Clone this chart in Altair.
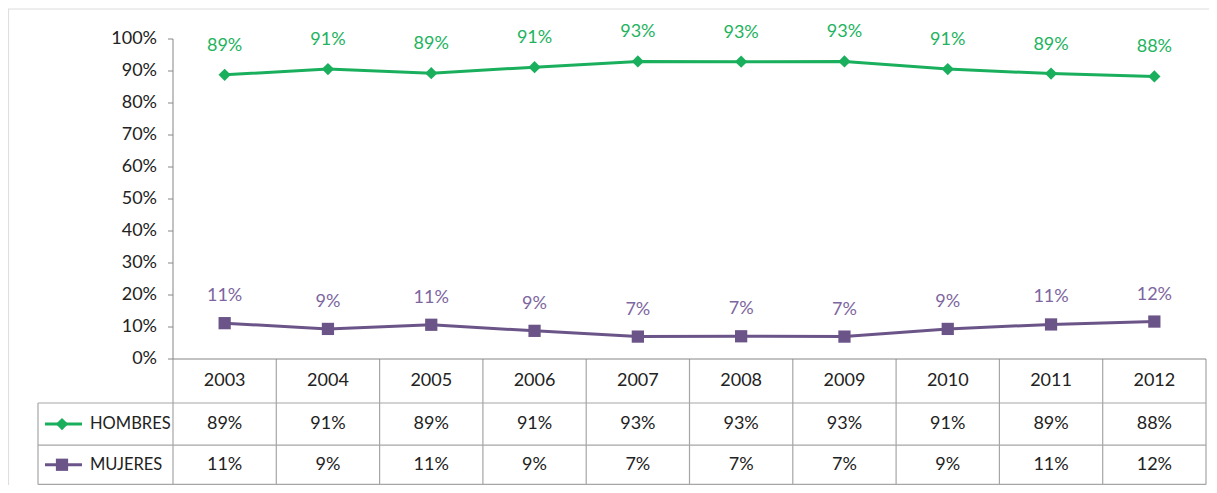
import altair as alt
import pandas as pd

years = [2003, 2004, 2005, 2006, 2007, 2008, 2009, 2010, 2011, 2012]
hombres = [88.8, 90.6, 89.3, 91.2, 93.0, 92.9, 93.0, 90.6, 89.2, 88.3]
mujeres = [11.2, 9.4, 10.7, 8.8, 7.0, 7.1, 7.0, 9.4, 10.8, 11.7]
series = ["HOMBRES", "MUJERES"]
colors = ["#1aaf5d", "#6b5588"]
label_colors = ["#22b35e", "#7d66a0"]
y_ticks = list(range(0, 101, 10))

FONT = "Lato"
TXT = "#222222"
GRID = "#a6a6a6"
AX = "#868686"

# layout (x: 103.3 px per year, y: 3.2 px per percentage point)
PX = 103.3
PY = 3.2
x_left = years[0] - 0.5
x_right = years[-1] + 0.5
x_min = x_left - 165 / PX
x_max = x_right + 3 / PX
y_min = -126 / PY
y_max = 351 / PY
x_legend = x_left - 135 / PX
row_edges = [0, -13.75, -26.9, -39.2]
row_mid = [(row_edges[i] + row_edges[i + 1]) / 2 for i in range(3)]

xs = alt.Scale(domain=[x_min, x_max], nice=False, zero=False)
ys = alt.Scale(domain=[y_min, y_max], nice=False, zero=False)
col = alt.Scale(domain=series, range=colors)


def XQ(f):
    return alt.X(f, type="quantitative", scale=xs, axis=None)


def YQ(f):
    return alt.Y(f, type="quantitative", scale=ys, axis=None)


pts = pd.DataFrame(
    {
        "year": years * 2,
        "serie": ["HOMBRES"] * len(years) + ["MUJERES"] * len(years),
        "v": hombres + mujeres,
    }
)
pts["lab"] = [f"{round(v)}%" for v in pts["v"]]
pts_h = pts[pts["serie"] == "HOMBRES"]
pts_m = pts[pts["serie"] == "MUJERES"]

lines = alt.Chart(pts).mark_line(strokeWidth=3).encode(
    x=XQ("year"), y=YQ("v"), color=alt.Color("serie:N", scale=col, legend=None)
)
mk_h = alt.Chart(pts_h).mark_point(
    shape="diamond", filled=True, size=150, opacity=1, color=colors[0]
).encode(x=XQ("year"), y=YQ("v"))
mk_m = alt.Chart(pts_m).mark_point(
    shape="square", filled=True, size=150, opacity=1, color=colors[1]
).encode(x=XQ("year"), y=YQ("v"))
lab_h = alt.Chart(pts_h).mark_text(
    font=FONT, fontSize=18, dy=-24, baseline="alphabetic", color=label_colors[0]
).encode(x=XQ("year"), y=YQ("v"), text="lab:N")
lab_m = alt.Chart(pts_m).mark_text(
    font=FONT, fontSize=18, dy=-22, baseline="alphabetic", color=label_colors[1]
).encode(x=XQ("year"), y=YQ("v"), text="lab:N")

# y axis drawn with marks
ax_df = pd.DataFrame(
    {"x": [x_left, x_left], "x2": [x_left, x_right], "y": [0, 0], "y2": [100, 0]}
)
ax_lines = alt.Chart(ax_df).mark_rule(color=AX, strokeWidth=1).encode(
    x=XQ("x"), x2="x2", y=YQ("y"), y2="y2"
)
tk_df = pd.DataFrame(
    {
        "x": [x_left - 5 / PX] * len(y_ticks),
        "x2": [x_left] * len(y_ticks),
        "y": y_ticks,
        "lx": [x_left - 16 / PX] * len(y_ticks),
        "t": [f"{t}%" for t in y_ticks],
    }
)
tk_rules = alt.Chart(tk_df).mark_rule(color=AX, strokeWidth=1).encode(
    x=XQ("x"), x2="x2", y=YQ("y")
)
tk_text = alt.Chart(tk_df).mark_text(
    font=FONT, fontSize=18, color=TXT, align="right", baseline="middle"
).encode(x=XQ("lx"), y=YQ("y"), text="t:N")

# table grid
vb = [y - 0.5 for y in years] + [x_right]
v_df = pd.DataFrame(
    {
        "x": vb + [x_legend],
        "y": [row_edges[0]] * len(vb) + [row_edges[1]],
        "y2": [row_edges[-1]] * (len(vb) + 1),
    }
)
vrules = alt.Chart(v_df).mark_rule(color=GRID, strokeWidth=1.2).encode(
    x=XQ("x"), y=YQ("y"), y2="y2"
)
h_df = pd.DataFrame({"x": [x_legend] * 3, "x2": [x_right] * 3, "y": row_edges[1:]})
hrules = alt.Chart(h_df).mark_rule(color=GRID, strokeWidth=1.2).encode(
    x=XQ("x"), x2="x2", y=YQ("y")
)

# table text
cells = pd.DataFrame(
    {
        "x": years * 3,
        "y": [row_mid[0]] * len(years) + [row_mid[1]] * len(years) + [row_mid[2]] * len(years),
        "t": [str(y) for y in years]
        + [f"{round(v)}%" for v in hombres]
        + [f"{round(v)}%" for v in mujeres],
    }
)
cell_txt = alt.Chart(cells).mark_text(
    font=FONT, fontSize=18, color=TXT, baseline="middle"
).encode(x=XQ("x"), y=YQ("y"), text="t:N")

# legend column
leg = pd.DataFrame(
    {
        "serie": series,
        "y": row_mid[1:],
        "a": [x_legend + 7 / PX] * 2,
        "b": [x_legend + 44 / PX] * 2,
        "m": [x_legend + 24 / PX] * 2,
        "t": [x_legend + 52 / PX] * 2,
    }
)
leg_line = alt.Chart(leg).mark_rule(strokeWidth=3).encode(
    x=XQ("a"), x2="b", y=YQ("y"), color=alt.Color("serie:N", scale=col, legend=None)
)
leg_h = alt.Chart(leg.iloc[[0]]).mark_point(
    shape="diamond", filled=True, size=150, opacity=1, color=colors[0]
).encode(x=XQ("m"), y=YQ("y"))
leg_m = alt.Chart(leg.iloc[[1]]).mark_point(
    shape="square", filled=True, size=150, opacity=1, color=colors[1]
).encode(x=XQ("m"), y=YQ("y"))
leg_txt = alt.Chart(leg).mark_text(
    font=FONT, fontSize=16.5, color=TXT, align="left", baseline="middle"
).encode(x=XQ("t"), y=YQ("y"), text="serie:N")

# faint chart frame
fr_df = pd.DataFrame(
    {"x": [x_min + 0.6 / PX, x_min], "x2": [x_min + 0.6 / PX, x_max], "y": [y_min, y_max - 1 / PY], "y2": [y_max - 1 / PY, y_max - 1 / PY]}
)
frame = alt.Chart(fr_df).mark_rule(color="#dcdcdc", strokeWidth=1).encode(
    x=XQ("x"), x2="x2", y=YQ("y"), y2="y2"
)

chart = alt.layer(
    frame, vrules, hrules, ax_lines, tk_rules, tk_text,
    lines, mk_h, mk_m, lab_h, lab_m,
    cell_txt, leg_line, leg_h, leg_m, leg_txt,
).properties(
    width=1201,
    height=477,
    autosize=alt.AutoSizeParams(type="none"),
    padding=0,
).configure_view(strokeWidth=0)

chart.save("out.html", embed_options={"renderer": "svg", "actions": False})
